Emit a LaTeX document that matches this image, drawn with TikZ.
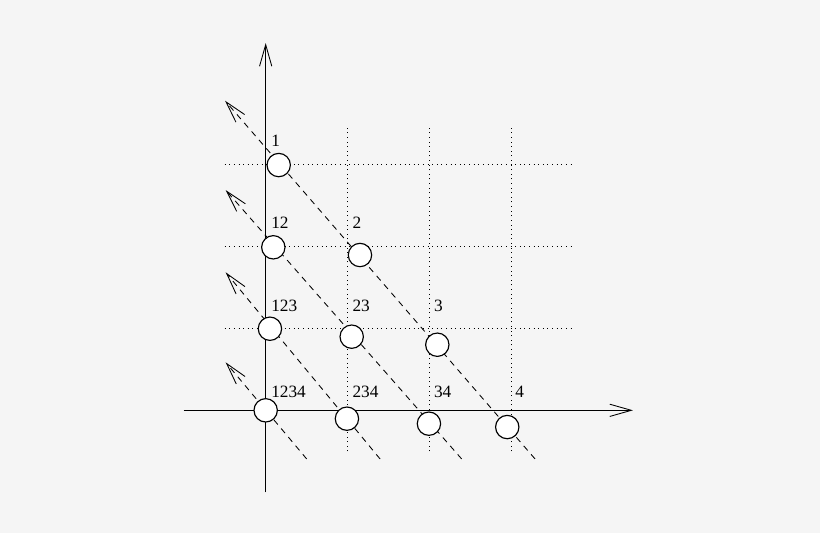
\documentclass[tikz,border=0pt]{standalone}
\usepackage{fontspec}
\setmainfont{Liberation Serif}
\usepackage{tikz}
\usetikzlibrary{arrows.meta}

\definecolor{paper}{RGB}{245,245,245}

\tikzset{
  axis/.style={line width=0.6pt, -{Straight Barb[length=15pt,width=8.5pt]}},
  grid/.style={line width=0.6pt, dash pattern=on 0.6pt off 2.6pt},
  diag/.style={line width=0.6pt, dash pattern=on 4.2pt off 3.6pt, -{Straight Barb[length=15pt,width=8pt]}},
  spot/.style={circle, draw, fill=white, line width=0.8pt, minimum size=0.57cm, inner sep=0pt},
  lab/.style={anchor=base west, inner sep=0pt, font=\fontsize{12}{14}\selectfont}
}

\begin{document}
\begin{tikzpicture}[x=2cm, y=2cm]
   \fill[paper] (-3.240,-1.496) rectangle (6.760,5.004);
   \useasboundingbox (-3.240,-1.496) rectangle (6.760,5.004);

   \draw[grid] (1,-0.5) -- (1,3.45);
   \draw[grid] (2,-0.5) -- (2,3.45);
   \draw[grid] (3,-0.5) -- (3,3.45);
   \draw[grid] (-0.5,1) -- (3.75,1);
   \draw[grid] (-0.5,2) -- (3.75,2);
   \draw[grid] (-0.5,3) -- (3.75,3);

   \coordinate (xs) at (-1,0);
   \coordinate (xe) at (4.479,0);
   \coordinate (ys) at (0,-1);
   \coordinate (ye) at (0,4.479);
   \draw[axis] (xs) -- (xe);
   \draw[axis] (ys) -- (ye);

   \coordinate (e1) at (3.285,-0.593);
   \coordinate (e2) at (2.390,-0.593);
   \coordinate (e3) at (1.395,-0.593);
   \coordinate (e4) at (0.500,-0.593);
   \coordinate (t1) at (-0.496,3.776);
   \coordinate (t2) at (-0.488,2.686);
   \coordinate (t3) at (-0.488,1.683);
   \coordinate (t4) at (-0.488,0.585);
   \draw[diag] (e1) -- (t1);
   \draw[diag] (e2) -- (t2);
   \draw[diag] (e3) -- (t3);
   \draw[diag] (e4) -- (t4);

   \node[spot] (s1) at (0.159,2.991) {};
   \node[spot] (s12) at (0.093,1.988) {};
   \node[spot] (s123) at (0.052,0.995) {};
   \node[spot] (s1234) at (0,0) {};
   \node[spot] (s2) at (1.150,1.894) {};
   \node[spot] (s23) at (1.049,0.898) {};
   \node[spot] (s234) at (0.991,-0.102) {};
   \node[spot] (s3) at (2.093,0.800) {};
   \node[spot] (s34) at (1.991,-0.163) {};
   \node[spot] (s4) at (2.946,-0.204) {};

   \node[lab] (l1) at (0.065,3.215) {1};
   \node[lab] (l12) at (0.065,2.220) {12};
   \node[lab] (l123) at (0.065,1.211) {123};
   \node[lab] (l1234) at (0.065,0.162) {1234};
   \node[lab] (l2) at (1.056,2.220) {2};
   \node[lab] (l23) at (1.056,1.211) {23};
   \node[lab] (l234) at (1.056,0.162) {234};
   \node[lab] (l3) at (2.050,1.211) {3};
   \node[lab] (l34) at (2.050,0.162) {34};
   \node[lab] (l4) at (3.040,0.162) {4};
\end{tikzpicture}
\end{document}
